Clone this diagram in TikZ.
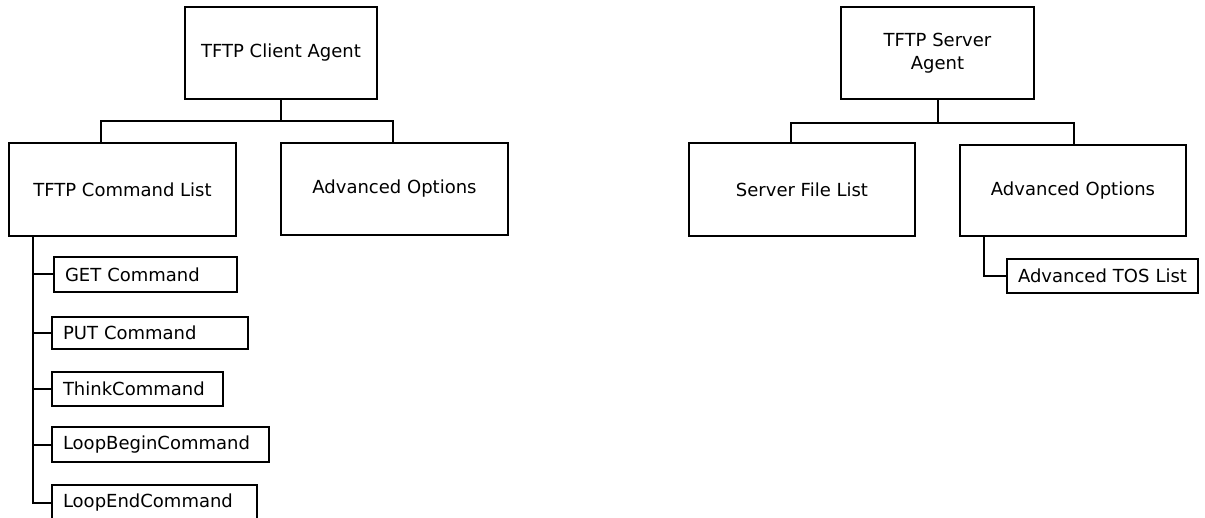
\documentclass[tikz,border=0pt]{standalone}
\usepackage{fontspec}
\setmainfont{DejaVu Sans}
\begin{document}
\begin{tikzpicture}[x=1pt,y=-1pt,
  box/.style={draw=black, line width=2pt, inner sep=0pt, outer sep=0pt, anchor=north west, font=\fontsize{18}{23}\selectfont, align=center},
  item/.style={draw=black, line width=2pt, inner sep=0pt, inner xsep=11pt, outer sep=0pt, anchor=north west, font=\fontsize{18}{23}\selectfont, align=left},
  link/.style={line width=2pt, draw=black}]
\useasboundingbox (0,0) rectangle (1205,518);
% left tree
\node[box, minimum width=192pt, minimum height=92pt] (client) at (185,7) {TFTP Client Agent};
\node[box, minimum width=227pt, minimum height=93pt] (cmdlist) at (9,143) {TFTP Command List};
\node[box, minimum width=227pt, minimum height=92pt] (advL) at (281,143) {Advanced Options};
\node[item, text width=161pt, minimum height=35pt] (get) at (54,257) {GET Command};
\node[item, text width=174pt, minimum height=32pt] (put) at (52,317) {PUT Command};
\node[item, text width=149pt, minimum height=34pt] (think) at (52,372) {ThinkCommand};
\node[item, text width=195pt, minimum height=35pt] (lbegin) at (52,427) {LoopBeginCommand};
\node[item, text width=183pt, minimum height=35pt] (lend) at (52,485) {LoopEndCommand};
\draw[link] (client.south) -- ([yshift=-22pt]client.south);
\draw[link] ([xshift=92pt]cmdlist.north west) |- ([yshift=-22pt]client.south) -| ([xshift=112pt]advL.north west);
\draw[link] ([xshift=24pt]cmdlist.south west) |- (lend.west);
\draw[link] ([xshift=24pt]cmdlist.south west) |- (get.west);
\draw[link] ([xshift=24pt]cmdlist.south west) |- (put.west);
\draw[link] ([xshift=24pt]cmdlist.south west) |- (think.west);
\draw[link] ([xshift=24pt]cmdlist.south west) |- (lbegin.west);
% right tree
\node[box, minimum width=193pt, minimum height=92pt] (server) at (841,7) {TFTP Server\\Agent};
\node[box, minimum width=226pt, minimum height=93pt] (filelist) at (689,143) {Server File List};
\node[box, minimum width=226pt, minimum height=91pt] (advR) at (960,145) {Advanced Options};
\node[item, text width=169pt, minimum height=34pt] (tos) at (1007,259) {Advanced TOS List};
\draw[link] (server.south) -- ([yshift=-24pt]server.south);
\draw[link] ([xshift=102pt]filelist.north west) |- ([yshift=-24pt]server.south) -| ([xshift=114pt]advR.north west);
\draw[link] ([xshift=24pt]advR.south west) |- (tos.west);
\end{tikzpicture}
\end{document}
